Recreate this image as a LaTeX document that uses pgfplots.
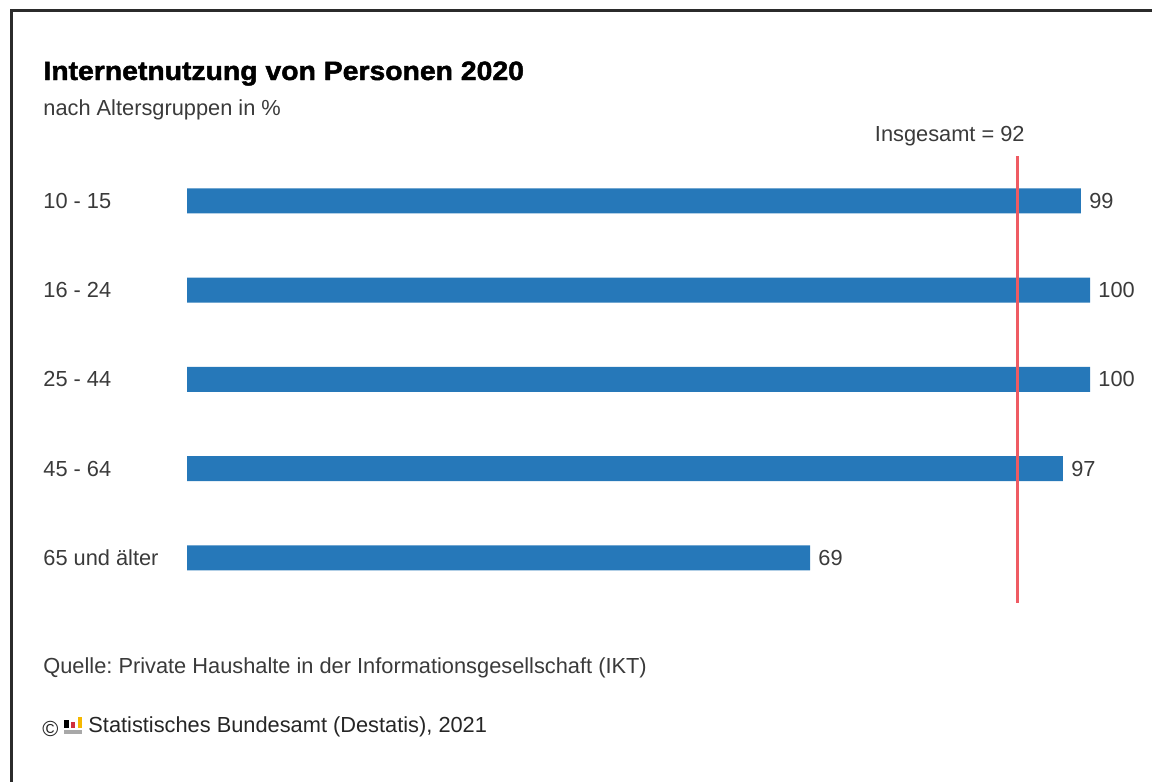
\documentclass[border=0pt]{standalone}
\usepackage{fontspec}
\setmainfont{Liberation Sans}
\newfontface\titlefont{Liberation Sans Bold}[FakeBold=1.8,FakeStretch=1.07]
\usepackage{pgfplots}
\pgfplotsset{compat=1.18}
\definecolor{barblue}{HTML}{2678B9}
\definecolor{linered}{HTML}{EF5B63}
\definecolor{txt}{HTML}{3A3A3A}
\definecolor{framec}{HTML}{2B2B2B}
\definecolor{logored}{HTML}{D0303C}
\definecolor{logoyel}{HTML}{F5B800}
\definecolor{logogray}{HTML}{A8A8A8}
\newcommand{\bodyfont}{\fontsize{10.9pt}{13pt}\selectfont}
\frenchspacing
\begin{document}
\begin{tikzpicture}
\begin{scope}[x=0.5pt,y=-0.5pt]
\path[use as bounding box] (0,0) rectangle (1152,782);
\draw[framec, line width=1.25pt] (11.3,800) -- (11.3,10.3) -- (1170,10.3);
\node[anchor=base west, inner sep=0pt, font=\titlefont\fontsize{13.25pt}{15pt}\selectfont, text=black] at (43,80) {Internetnutzung von Personen 2020};
\node[anchor=base west, inner sep=0pt, font=\bodyfont, text=txt] at (43,115) {nach Altersgruppen in \%};
\node[anchor=base east, inner sep=0pt, font=\bodyfont, text=txt] at (1025,141) {Insgesamt = 92};
\node[anchor=base west, inner sep=0pt, font=\bodyfont, text=txt] at (43,673) {Quelle: Private Haushalte in der Informationsgesellschaft (IKT)};
\node[anchor=base west, inner sep=0pt, font=\bodyfont, text=black!85] at (42,736) {\char"00A9};
\node[anchor=base west, inner sep=0pt, font=\bodyfont, text=black!85] at (88,732) {Statistisches Bundesamt (Destatis), 2021};
\fill[black] (64.3,719.5) rectangle (68.5,728.3);
\fill[logored] (70.7,722) rectangle (75,728.3);
\fill[logoyel] (77.5,716.5) rectangle (81.7,728.3);
\fill[logogray] (64.3,729.5) rectangle (81.7,733.5);
\end{scope}
\begin{axis}[
  at={(93.5pt,-301.3pt)}, anchor=south west,
  scale only axis, width=451.5pt, height=223.125pt,
  xmin=0, xmax=100, ymin=-0.5, ymax=4.5, y dir=reverse,
  axis line style={draw=none}, major tick length=0pt,
  xtick=\empty, ytick={0,1,2,3,4},
  yticklabels={10 - 15, 16 - 24, 25 - 44, 45 - 64, 65 und älter},
  yticklabel style={anchor=west, inner sep=0pt, xshift=-72pt, font=\bodyfont, text=txt},
  clip=false,
  /pgf/number format/assume math mode=true,
]
\addplot[xbar, bar width=12.5pt, fill=barblue, draw=none,
  nodes near coords,
  nodes near coords style={anchor=west, inner sep=0pt, xshift=4pt, font=\bodyfont, text=txt}]
  coordinates {(99,0) (100,1) (100,2) (97,3) (69,4)};
\addplot[draw=linered, line width=1.5pt, no marks] coordinates {(92,-0.5) (92,4.5)};
\end{axis}
\end{tikzpicture}
\end{document}
